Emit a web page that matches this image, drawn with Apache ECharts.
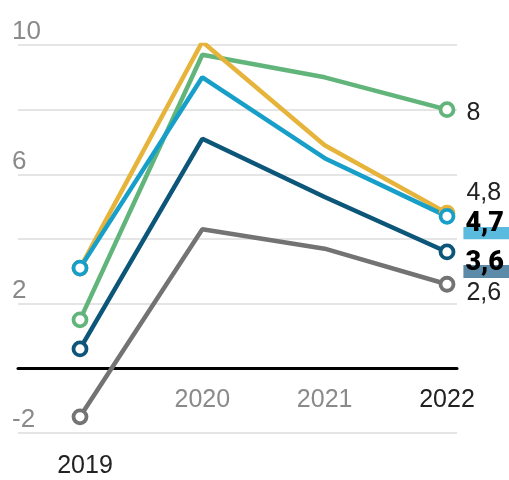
<!DOCTYPE html>
<html>
<head>
<meta charset="utf-8">
<script src="https://cdn.jsdelivr.net/npm/echarts@6/dist/echarts.min.js"></script>
<style>html,body{margin:0;padding:0;background:#fff}#c{width:509px;height:480px}</style>
</head>
<body>
<div id="c"></div>
<script>
const years = [2019, 2020, 2021, 2022];
const yellowVals = [3.1, 10.1, 6.9, 4.8];
const greenVals = [1.5, 9.7, 9.0, 8.0];
const lightBlueVals = [3.1, 9.0, 6.5, 4.7];
const darkBlueVals = [0.6, 7.1, 5.3, 3.6];
const grayVals = [-1.5, 4.3, 3.7, 2.6];
const yTickLabels = [10, 6, 2, -2];

const chart = echarts.init(document.getElementById('c'), null, {renderer: 'canvas'});
const fmt = v => String(v).replace('.', ',');

function bandBg(color) {
  return new echarts.graphic.LinearGradient(0, 0, 0, 1, [
    {offset: 0, color: 'rgba(255,255,255,0)'},
    {offset: 0.58, color: 'rgba(255,255,255,0)'},
    {offset: 0.58, color: color},
    {offset: 1, color: color}
  ]);
}

function mk(name, vals, color, endLabel) {
  const data = years.map((y, i) => {
    const item = {value: [y, vals[i]]};
    if (i === 1 || i === 2) item.symbol = 'none';
    if (i === years.length - 1) item.label = endLabel;
    return item;
  });
  return {
    name, type: 'line', data,
    symbol: 'circle', symbolSize: 13, showSymbol: true,
    lineStyle: {color, width: 4.5},
    itemStyle: {color: '#fff', borderColor: color, borderWidth: 3.8},
    emphasis: {disabled: true},
    label: {show: false},
    z: 2
  };
}

const plainLabel = (dy) => ({
  show: true, position: 'right', distance: 11, offset: [0, dy],
  formatter: p => fmt(p.value[1]),
  fontFamily: 'Liberation Sans', fontSize: 25, color: '#222'
});
const boldLabel = (dy, band) => ({
  show: true, position: 'right', distance: 8, offset: [0, dy],
  formatter: p => fmt(p.value[1]),
  fontFamily: 'Roboto', fontWeight: 900, fontSize: 27, lineHeight: 26, color: '#000',
  backgroundColor: bandBg(band), padding: [1, 20, 3, 2]
});

chart.setOption({
  animation: false,
  grid: {left: 18, right: 52, top: 45, bottom: 47, containLabel: false, outerBoundsMode: 'none'},
  xAxis: {
    type: 'value', min: 2018.4932, max: 2022.0817,
    splitLine: {show: false},
    axisTick: {show: false},
    axisLine: {show: true, onZero: true, lineStyle: {color: '#000', width: 3}},
    axisLabel: {
      customValues: years,
      margin: -45,
      formatter: v => v === 2019 ? '{d|' + v + '}' : (v === 2022 ? '{k|' + v + '}' : '{g|' + v + '}'),
      rich: {
        d: {fontFamily: 'Liberation Sans', fontSize: 25, color: '#222', padding: [66, 0, 0, 10]},
        k: {fontFamily: 'Liberation Sans', fontSize: 25, color: '#222'},
        g: {fontFamily: 'Liberation Sans', fontSize: 25, color: '#8a8a8a'}
      }
    }
  },
  yAxis: {
    type: 'value', min: -2, max: 10, interval: 2,
    axisLine: {show: false}, axisTick: {show: false},
    splitLine: {show: true, lineStyle: {color: '#dcdcdc', width: 1.5}},
    axisLabel: {
      inside: true, margin: -6, verticalAlign: 'bottom',
      fontFamily: 'Liberation Sans', fontSize: 26, color: '#8a8a8a',
      formatter: v => yTickLabels.indexOf(v) >= 0 ? String(v) : ''
    }
  },
  series: [
    mk('gray', grayVals, '#737373', plainLabel(9)),
    mk('darkblue', darkBlueVals, '#0c5679', boldLabel(11, '#5b8ba8')),
    mk('green', greenVals, '#62b57a', plainLabel(3)),
    mk('yellow', yellowVals, '#e6b43a', plainLabel(-20)),
    mk('lightblue', lightBlueVals, '#179fc9', boldLabel(8, '#5bbbdf'))
  ]
});
</script>
</body>
</html>
